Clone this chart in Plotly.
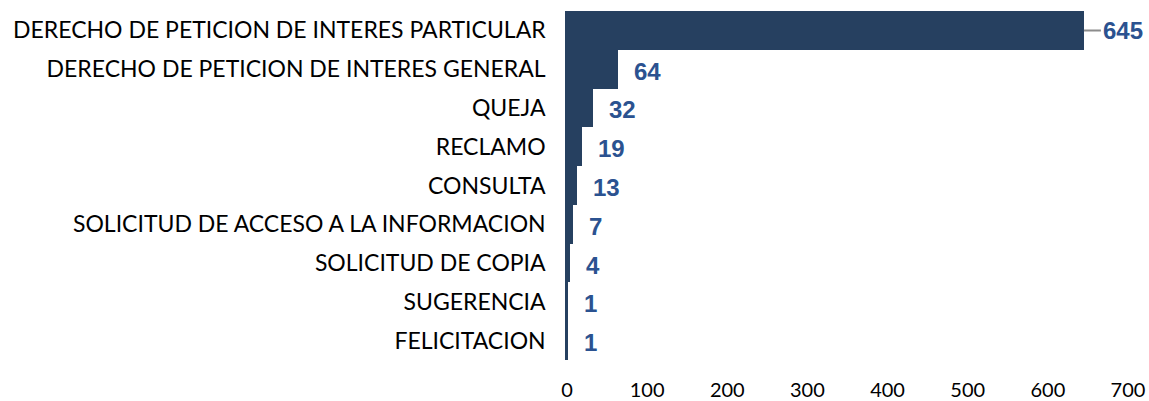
import plotly.graph_objects as go

categories = [
    "DERECHO DE PETICION DE INTERES PARTICULAR",
    "DERECHO DE PETICION DE INTERES GENERAL",
    "QUEJA",
    "RECLAMO",
    "CONSULTA",
    "SOLICITUD DE ACCESO A LA INFORMACION",
    "SOLICITUD DE COPIA",
    "SUGERENCIA",
    "FELICITACION",
]
values = [645, 64, 32, 19, 13, 7, 4, 1, 1]
x_ticks = [0, 100, 200, 300, 400, 500, 600, 700]

BAR = "#264060"
LABEL = "#2B5290"
TXT = "Lato"

fig = go.Figure()
fig.add_trace(go.Bar(
    x=values, y=categories, orientation="h",
    marker=dict(color=BAR, line=dict(width=0)),
    hoverinfo="x+y",
))

vmax = max(values)
lab_font = dict(family="Liberation Sans, Arial", size=24, color=LABEL, weight="bold")
for c, v in zip(categories, values):
    if v == vmax:
        fig.add_annotation(
            x=v, y=c, xref="x", yref="y", text=str(v),
            showarrow=True, arrowhead=0, arrowwidth=2, arrowcolor="#8C8C8C",
            ax=17, ay=0, xanchor="left", standoff=0, yshift=0,
            font=lab_font,
        )
    else:
        fig.add_annotation(
            x=v, y=c, xref="x", yref="y", text=str(v),
            showarrow=False, xanchor="left", xshift=14, yshift=-2,
            font=lab_font,
        )

fig.update_layout(
    width=1149, height=401,
    margin=dict(l=567, r=21, t=11, b=41),
    paper_bgcolor="white", plot_bgcolor="white",
    bargap=0, showlegend=False,
    font=dict(family=TXT, size=20, color="black"),
    xaxis=dict(range=[0, 700], tickvals=x_ticks, showgrid=False, zeroline=False,
               showline=False, ticks="outside", ticklen=12, tickcolor="rgba(0,0,0,0)",
               automargin=False,
               tickfont=dict(family=TXT, size=20, color="black")),
    yaxis=dict(autorange="reversed", showgrid=False, zeroline=False,
               showline=True, linecolor=BAR, linewidth=1.5,
               ticks="outside", ticklen=15, tickcolor="rgba(0,0,0,0)",
               automargin=False,
               tickfont=dict(family=TXT, size=23, color="black")),
)

fig.write_html("out.html")
